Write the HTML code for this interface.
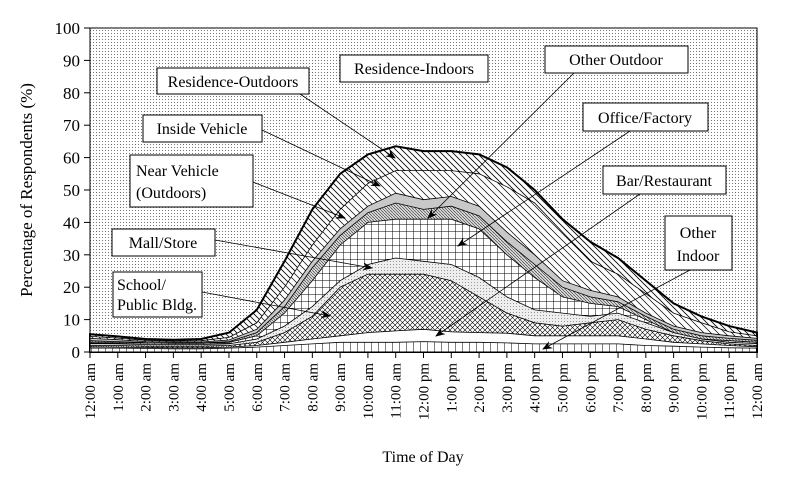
<!DOCTYPE html>
<html><head><meta charset="utf-8"><style>
body{margin:0;background:#fff}
svg{display:block}
text{font-family:"Liberation Serif",serif;fill:#000}
</style></head><body>
<svg id="s" width="800" height="480" viewBox="0 0 800 480">
<defs>
<pattern id="bg" width="3" height="3" patternUnits="userSpaceOnUse"><rect width="3" height="3" fill="#fff"/><rect width="1" height="1" fill="#777"/></pattern>
<pattern id="d1" width="6" height="6" patternUnits="userSpaceOnUse"><rect width="6" height="6" fill="#fff"/><path d="M0,0L6,6M-3,3L3,9M3,-3L9,3" stroke="#000" stroke-width="0.8"/></pattern>
<pattern id="d2" width="7" height="7" patternUnits="userSpaceOnUse"><rect width="7" height="7" fill="#fff"/><path d="M0,0L7,7M-3.5,3.5L3.5,10.5M3.5,-3.5L10.5,3.5" stroke="#000" stroke-width="0.7"/></pattern>
<pattern id="oo" width="3" height="3" patternUnits="userSpaceOnUse"><rect width="3" height="3" fill="#ddd"/><path d="M0,0L3,3" stroke="#444" stroke-width="0.7"/></pattern>
<pattern id="grid" width="7" height="7" patternUnits="userSpaceOnUse"><rect width="7" height="7" fill="#fff"/><path d="M0,0H7M0,0V7" stroke="#000" stroke-width="1"/></pattern>
<pattern id="mall" width="3" height="3" patternUnits="userSpaceOnUse"><rect width="3" height="3" fill="#eee"/><rect width="1" height="1" fill="#999"/></pattern>
<pattern id="xh" width="5" height="5" patternUnits="userSpaceOnUse"><rect width="5" height="5" fill="#fff"/><path d="M0,0L5,5M5,0L0,5" stroke="#000" stroke-width="0.6"/></pattern>
<pattern id="vl" width="7" height="7" patternUnits="userSpaceOnUse"><rect width="7" height="7" fill="#fff"/><path d="M0,0V7" stroke="#000" stroke-width="1"/></pattern>
<marker id="ar" markerWidth="10" markerHeight="8" refX="9" refY="4" orient="auto" markerUnits="userSpaceOnUse"><path d="M0,0L10,4L0,8L3,4Z" fill="#000"/></marker>
</defs>
<rect x="90" y="28" width="667" height="324" fill="url(#bg)"/>
<g id="areas"></g>
<rect x="90" y="28" width="667" height="324" fill="none" stroke="#000" stroke-width="1"/>
<g id="ax"></g>
<g stroke="#000" stroke-width="0.8" fill="none" marker-end="url(#ar)">
<line x1="300" y1="94" x2="395" y2="158"/>
<line x1="262" y1="130" x2="380" y2="186"/>
<line x1="253" y1="182" x2="345" y2="218"/>
<line x1="575" y1="72" x2="428" y2="218"/>
<line x1="630" y1="131" x2="458" y2="246"/>
<line x1="215" y1="240" x2="372" y2="268"/>
<line x1="202" y1="292" x2="330" y2="316"/>
<line x1="640" y1="194" x2="436" y2="336"/>
<line x1="690" y1="270" x2="543" y2="349"/>
</g>
<g fill="#fff" stroke="#000" stroke-width="1">
<rect x="340" y="55" width="148" height="27"/>
<rect x="157" y="68" width="152" height="26"/>
<rect x="545" y="46" width="143" height="27"/>
<rect x="143" y="115" width="119" height="27"/>
<rect x="583" y="103" width="125" height="28"/>
<rect x="130" y="155" width="123" height="52"/>
<rect x="603" y="166" width="123" height="28"/>
<rect x="112" y="229" width="103" height="27"/>
<rect x="665" y="216" width="67" height="54"/>
<rect x="113" y="272" width="89" height="45"/>
</g>
<g font-size="16">
<text x="414" y="74" text-anchor="middle">Residence-Indoors</text>
<text x="233" y="87" text-anchor="middle">Residence-Outdoors</text>
<text x="616" y="65" text-anchor="middle">Other Outdoor</text>
<text x="202" y="134" text-anchor="middle">Inside Vehicle</text>
<text x="645" y="123" text-anchor="middle">Office/Factory</text>
<text x="136" y="176">Near Vehicle</text>
<text x="136" y="198">(Outdoors)</text>
<text x="664" y="186" text-anchor="middle">Bar/Restaurant</text>
<text x="163" y="248" text-anchor="middle">Mall/Store</text>
<text x="698" y="238" text-anchor="middle">Other</text>
<text x="698" y="261" text-anchor="middle">Indoor</text>
<text x="117" y="290">School/</text>
<text x="117" y="310">Public Bldg.</text>
</g>
<text transform="translate(32,190) rotate(-90)" font-size="17" text-anchor="middle">Percentage of Respondents (%)</text>
<text x="423" y="462" font-size="16" text-anchor="middle">Time of Day</text>
</svg>
<script>
const X=h=>90+h*667/24, Y=v=>352-v*3.24;
const L=[
[1.2,1.2,1.1,1,1,1.2,1.5,2,2.5,3,3,3,3.2,3,3,2.8,2.5,2.5,2.5,2.5,2,1.8,1.5,1.3,1.2],
[1.6,1.5,1.4,1.3,1.3,1.5,2,3,4,5,6,6.5,7,6.2,6,5.8,5,5,5,5,4,3,2.5,2,1.6],
[2,2,1.8,1.8,1.8,2,3,6,11,20,24,24,24,22,17,12,9,8,9,10,7,5,3.5,2.5,2],
[2.6,2.5,2.3,2.3,2.3,2.5,4,8,14,22,27,29,28,27,23,17,13,12,11,12,9,6,4,3,2.6],
[3,3,2.8,2.7,2.7,3,5,12,22,33,40,41,41,41,38,30,23,17,15,14,10,6,4,3.5,3],
[3.5,3.2,2.9,2.8,2.8,3.2,6,14,26,36,43,46,44,45,42,34,27,20,17,15.5,11,7,5,4.2,3.6],
[4.2,3.8,3.2,3.1,3.1,3.7,7,16,28,38,45,49,47,48,45,37,30,22,19,17,12,8,6,5,4.2],
[4.8,4.3,3.6,3.4,3.5,4.5,9,20,33,44,52,56,56,56,55,51,46,37,28,24,18,12,9,6.2,5],
[5.5,4.8,4,3.8,4,6,13,28,44,55,61,63.5,62,62,61,57,50,41,34,29,22,15,11,8,6]];
const F=["url(#vl)","#fff","url(#xh)","url(#mall)","url(#grid)","url(#oo)","#c8c8c8","url(#d2)","url(#d1)"];
let g=document.getElementById('areas'),s='';
for(let i=L.length-1;i>=0;i--){
 let p='M'+X(0)+','+Y(0);
 L[i].forEach((v,h)=>p+='L'+X(h).toFixed(1)+','+Y(v).toFixed(1));
 p+='L'+X(24)+','+Y(0)+'Z';
 s+=`<path d="${p}" fill="${F[i]}" stroke="#000" stroke-width="${i==8?2:0.8}"/>`;
}
g.innerHTML=s;
let a='';
for(let v=0;v<=100;v+=10){a+=`<line x1="84" x2="90" y1="${Y(v)}" y2="${Y(v)}" stroke="#000"/><text x="80" y="${Y(v)+6}" font-size="17" text-anchor="end">${v}</text>`;}
const lab=["12:00 am","1:00 am","2:00 am","3:00 am","4:00 am","5:00 am","6:00 am","7:00 am","8:00 am","9:00 am","10:00 am","11:00 am","12:00 pm","1:00 pm","2:00 pm","3:00 pm","4:00 pm","5:00 pm","6:00 pm","7:00 pm","8:00 pm","9:00 pm","10:00 pm","11:00 pm","12:00 am"];
lab.forEach((t,h)=>{let x=X(h);a+=`<line x1="${x}" x2="${x}" y1="352" y2="358" stroke="#000"/><text transform="translate(${x+5},363) rotate(-90)" font-size="15" text-anchor="end">${t}</text>`;});
document.getElementById('ax').innerHTML=a;
</script>
</body></html>
